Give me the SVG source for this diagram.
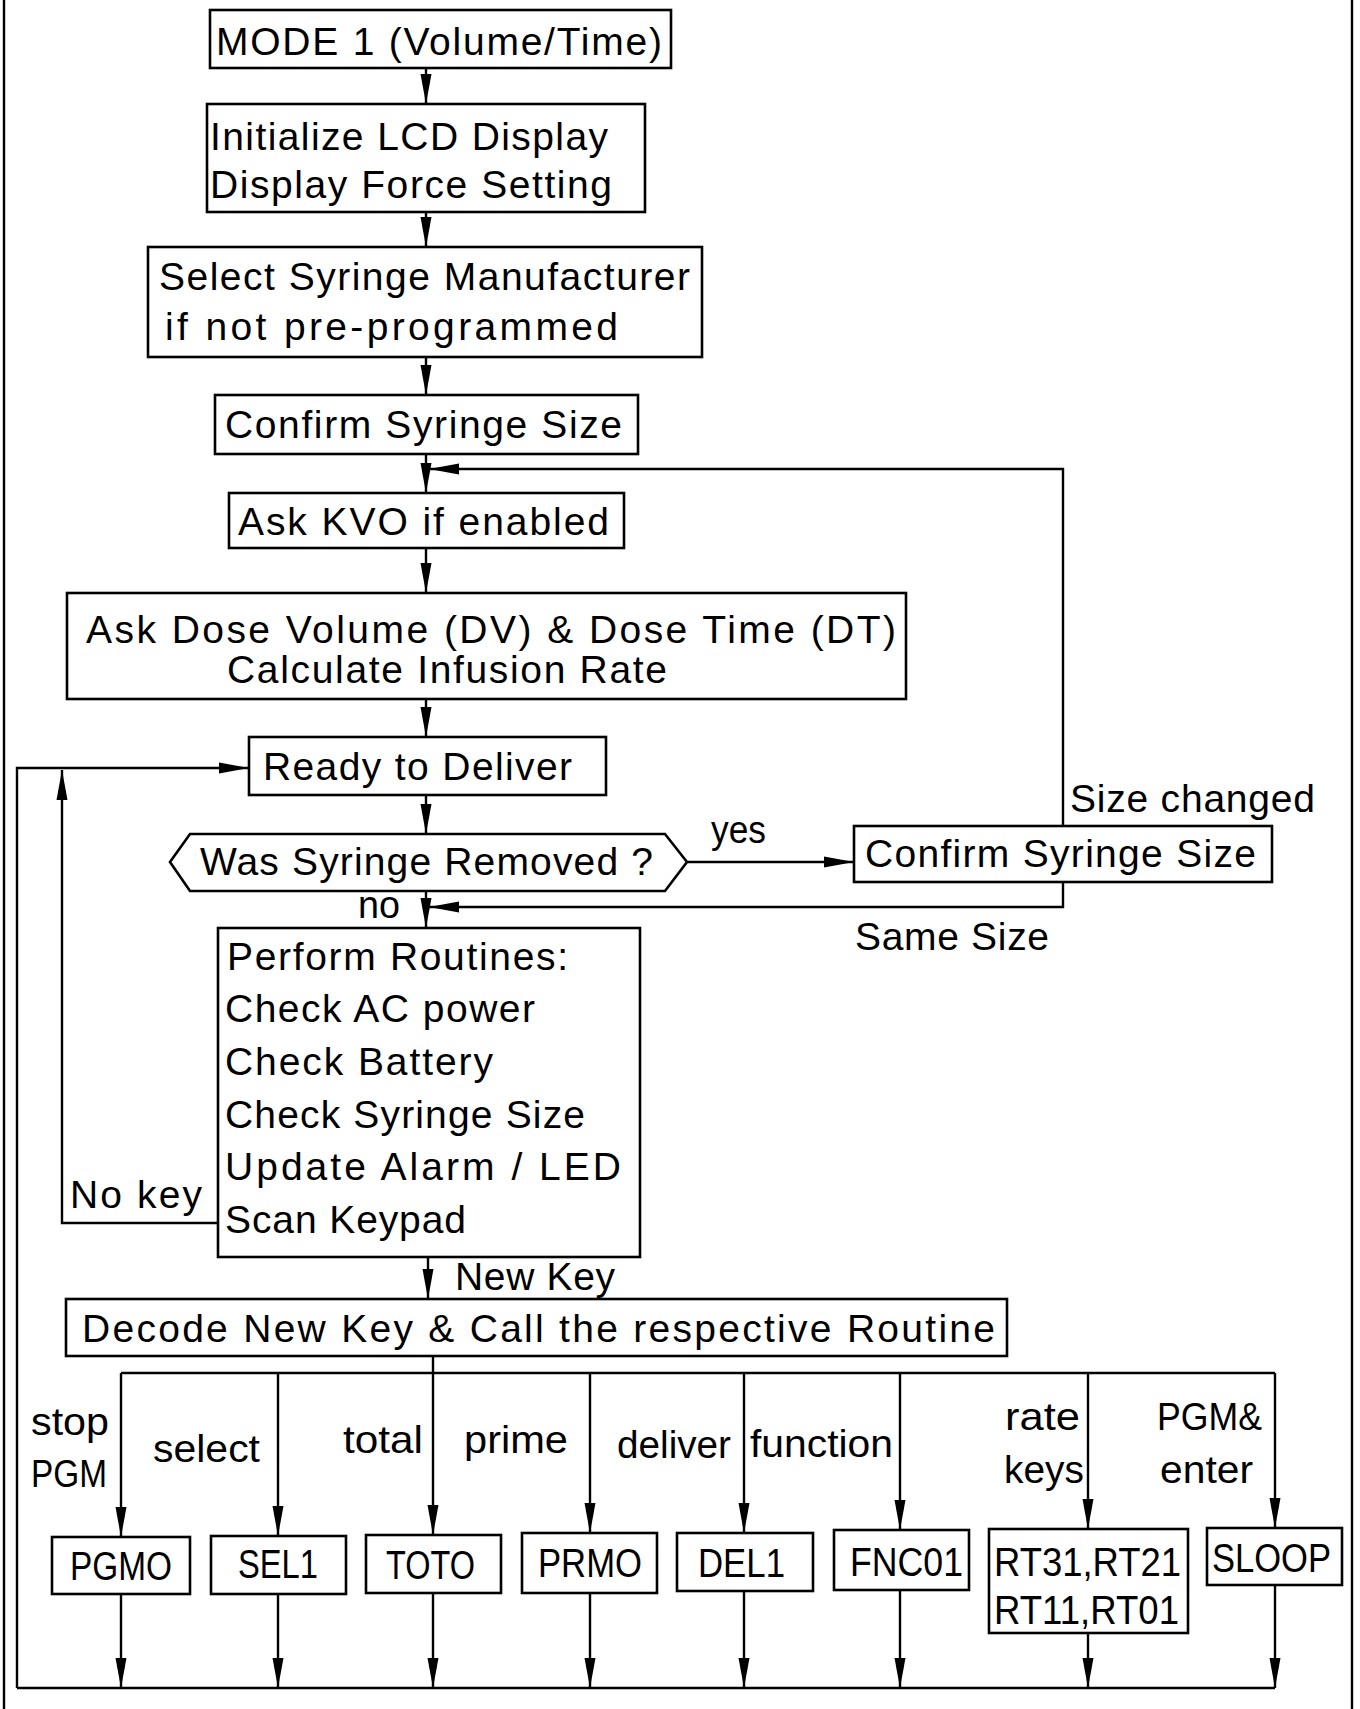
<svg xmlns="http://www.w3.org/2000/svg" width="1360" height="1709" viewBox="0 0 1360 1709">
<defs>
<marker id="ah" markerUnits="userSpaceOnUse" markerWidth="30" markerHeight="12" viewBox="0 0 30 12" refX="30" refY="6" orient="auto">
<path d="M0,0.5 L30,6 L0,11.5 z" fill="#000"/>
</marker>
<style>
.b{fill:#fff;stroke:#000;stroke-width:2.6}
.c{fill:none;stroke:#000;stroke-width:2.4}
.a{marker-end:url(#ah)}
text{font-family:"Liberation Sans",Arial,sans-serif;font-size:39px;fill:#000}
.s{font-size:40px}
</style>
</defs>
<rect x="0" y="0" width="1360" height="1709" fill="#fff"/>
<g id="frame">
<line class="c" x1="4" y1="0" x2="4" y2="1709"/>
<line class="c" x1="1352" y1="0" x2="1352" y2="1709"/>
</g>
<g id="connectors">
<path class="c a" d="M426,68 V104"/>
<path class="c a" d="M426,212 V247"/>
<path class="c a" d="M426,357 V395"/>
<path class="c a" d="M426,454 V493"/>
<path class="c a" d="M426,548 V593"/>
<path class="c a" d="M426,699 V737"/>
<path class="c a" d="M426,795 V834"/>
<path class="c a" d="M426,891 V928"/>
<path class="c a" d="M428,1257 V1299"/>
<path class="c" d="M433,1356 V1373"/>
<path class="c a" d="M687,862 H854"/>
<path class="c a" d="M1063,826 V469 H429"/>
<path class="c a" d="M1063,882 V907 H429"/>
<path class="c a" d="M218,1223 H62 V770"/>
<path class="c a" d="M17,1688 V768 H249"/>
<path class="c" d="M121,1373 H1275"/>
<path class="c" d="M17,1688 H1275"/>
<path class="c a" d="M121,1373 V1537"/>
<path class="c a" d="M278,1373 V1536"/>
<path class="c a" d="M433,1373 V1535"/>
<path class="c a" d="M590,1373 V1533"/>
<path class="c a" d="M744,1373 V1533"/>
<path class="c a" d="M900,1373 V1530"/>
<path class="c a" d="M1088,1373 V1529"/>
<path class="c a" d="M1275,1373 V1528"/>
<path class="c a" d="M121,1594 V1688"/>
<path class="c a" d="M278,1594 V1688"/>
<path class="c a" d="M433,1593 V1688"/>
<path class="c a" d="M590,1593 V1688"/>
<path class="c a" d="M744,1591 V1688"/>
<path class="c a" d="M900,1590 V1688"/>
<path class="c a" d="M1088,1633 V1688"/>
<path class="c a" d="M1275,1585 V1688"/>
</g>
<g id="edge-labels">
<text x="711" y="843" textLength="55" lengthAdjust="spacingAndGlyphs">yes</text>
<text x="1070" y="812" textLength="245" lengthAdjust="spacing">Size changed</text>
<text x="855" y="950" textLength="194" lengthAdjust="spacing">Same Size</text>
<text x="358" y="918" textLength="42" lengthAdjust="spacingAndGlyphs">no</text>
<text x="70" y="1208" textLength="132" lengthAdjust="spacing">No key</text>
<text x="455" y="1290" textLength="160" lengthAdjust="spacing">New Key</text>
<text x="31" y="1435" textLength="78" lengthAdjust="spacingAndGlyphs">stop</text>
<text x="31" y="1487" textLength="76" lengthAdjust="spacingAndGlyphs">PGM</text>
<text x="153" y="1462" textLength="107" lengthAdjust="spacingAndGlyphs">select</text>
<text x="343" y="1453" textLength="80" lengthAdjust="spacingAndGlyphs">total</text>
<text x="464" y="1453" textLength="104" lengthAdjust="spacingAndGlyphs">prime</text>
<text x="617" y="1458" textLength="114" lengthAdjust="spacingAndGlyphs">deliver</text>
<text x="750" y="1457" textLength="143" lengthAdjust="spacingAndGlyphs">function</text>
<text x="1005" y="1430" textLength="75" lengthAdjust="spacingAndGlyphs">rate</text>
<text x="1004" y="1483" textLength="80" lengthAdjust="spacingAndGlyphs">keys</text>
<text x="1157" y="1430" textLength="105" lengthAdjust="spacingAndGlyphs">PGM&amp;</text>
<text x="1160" y="1483" textLength="93" lengthAdjust="spacingAndGlyphs">enter</text>
</g>
<g id="n-mode">
<rect class="b" x="210" y="10" width="461" height="58"/>
<text x="216" y="55" textLength="446" lengthAdjust="spacing">MODE 1 (Volume/Time)</text>
</g>
<g id="n-init">
<rect class="b" x="207" y="104" width="438" height="108"/>
<text x="210" y="150" textLength="398" lengthAdjust="spacing">Initialize LCD Display</text>
<text x="210" y="198" textLength="402" lengthAdjust="spacing">Display Force Setting</text>
</g>
<g id="n-select">
<rect class="b" x="148" y="247" width="554" height="110"/>
<text x="159" y="290" textLength="531" lengthAdjust="spacing">Select Syringe Manufacturer</text>
<text x="165" y="340" textLength="453" lengthAdjust="spacing">if not pre-programmed</text>
</g>
<g id="n-confirm">
<rect class="b" x="215" y="395" width="423" height="59"/>
<text x="225" y="438" textLength="397" lengthAdjust="spacing">Confirm Syringe Size</text>
</g>
<g id="n-kvo">
<rect class="b" x="229" y="493" width="395" height="55"/>
<text x="238" y="535" textLength="371" lengthAdjust="spacing">Ask KVO if enabled</text>
</g>
<g id="n-dose">
<rect class="b" x="67" y="593" width="839" height="106"/>
<text x="86" y="643" textLength="810" lengthAdjust="spacing">Ask Dose Volume (DV) &amp; Dose Time (DT)</text>
<text x="227" y="683" textLength="440" lengthAdjust="spacing">Calculate Infusion Rate</text>
</g>
<g id="n-ready">
<rect class="b" x="249" y="737" width="357" height="58"/>
<text x="263" y="780" textLength="309" lengthAdjust="spacing">Ready to Deliver</text>
</g>
<g id="n-removed">
<polygon class="b" points="190,834 665,834 687,862 665,891 190,891 170,862"/>
<text x="200" y="875" textLength="453" lengthAdjust="spacing">Was Syringe Removed ?</text>
</g>
<g id="n-confirm2">
<rect class="b" x="854" y="826" width="418" height="56"/>
<text x="865" y="867" textLength="391" lengthAdjust="spacing">Confirm Syringe Size</text>
</g>
<g id="n-perform">
<rect class="b" x="218" y="928" width="422" height="329"/>
<text x="227" y="970" textLength="341" lengthAdjust="spacing">Perform Routines:</text>
<text x="225" y="1022" textLength="310" lengthAdjust="spacing">Check AC power</text>
<text x="225" y="1075" textLength="268" lengthAdjust="spacing">Check Battery</text>
<text x="225" y="1128" textLength="360" lengthAdjust="spacing">Check Syringe Size</text>
<text x="225" y="1180" textLength="396" lengthAdjust="spacing">Update Alarm / LED</text>
<text x="225" y="1233" textLength="241" lengthAdjust="spacing">Scan Keypad</text>
</g>
<g id="n-decode">
<rect class="b" x="66" y="1299" width="941" height="57"/>
<text x="82" y="1342" textLength="913" lengthAdjust="spacing">Decode New Key &amp; Call the respective Routine</text>
</g>
<g id="n-pgmo">
<rect class="b" x="52" y="1537" width="138" height="57"/>
<text class="s" x="70" y="1580" textLength="102" lengthAdjust="spacingAndGlyphs">PGMO</text>
</g>
<g id="n-sel1">
<rect class="b" x="211" y="1536" width="135" height="58"/>
<text class="s" x="238" y="1578" textLength="80" lengthAdjust="spacingAndGlyphs">SEL1</text>
</g>
<g id="n-toto">
<rect class="b" x="366" y="1535" width="135" height="58"/>
<text class="s" x="386" y="1579" textLength="89" lengthAdjust="spacingAndGlyphs">TOTO</text>
</g>
<g id="n-prmo">
<rect class="b" x="522" y="1533" width="135" height="60"/>
<text class="s" x="538" y="1577" textLength="104" lengthAdjust="spacingAndGlyphs">PRMO</text>
</g>
<g id="n-del1">
<rect class="b" x="677" y="1533" width="136" height="58"/>
<text class="s" x="698" y="1577" textLength="87" lengthAdjust="spacingAndGlyphs">DEL1</text>
</g>
<g id="n-fnc01">
<rect class="b" x="834" y="1530" width="135" height="60"/>
<text class="s" x="850" y="1576" textLength="113" lengthAdjust="spacingAndGlyphs">FNC01</text>
</g>
<g id="n-rt">
<rect class="b" x="989" y="1529" width="199" height="104"/>
<text class="s" x="994" y="1576" textLength="187" lengthAdjust="spacingAndGlyphs">RT31,RT21</text>
<text class="s" x="994" y="1624" textLength="185" lengthAdjust="spacingAndGlyphs">RT11,RT01</text>
</g>
<g id="n-sloop">
<rect class="b" x="1207" y="1528" width="135" height="57"/>
<text class="s" x="1212" y="1572" textLength="119" lengthAdjust="spacingAndGlyphs">SLOOP</text>
</g>
</svg>
